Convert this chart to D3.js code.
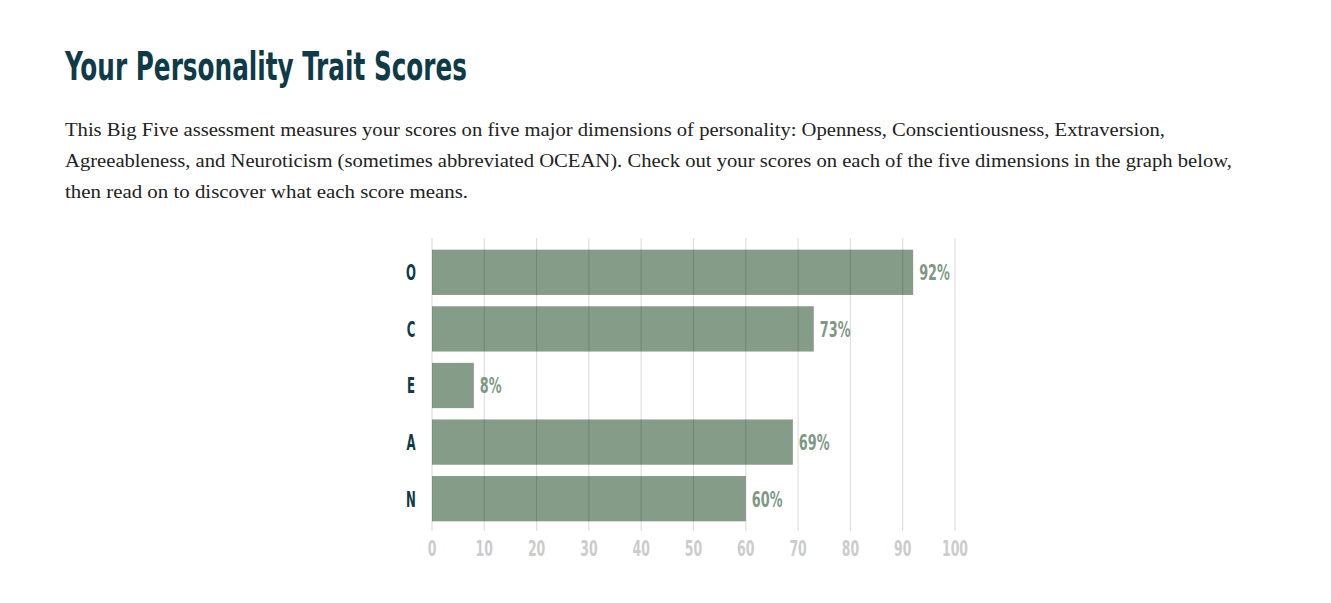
<html>
<head>
<script src="https://d3js.org/d3.v7.min.js"></script>
<style>
  body { margin: 0; background: #fff; }
  .title { font-family: "DejaVu Sans Condensed", "DejaVu Sans", sans-serif; font-weight: bold; fill: #0e3b47; }
  .intro { font-family: "Liberation Serif", serif; fill: #222; }
  .cond { font-family: "DejaVu Sans Condensed", "DejaVu Sans", sans-serif; font-weight: bold; }
</style>
</head>
<body>
<svg id="chart" width="1331" height="603"></svg>
<script>
    const traits = ["O", "C", "E", "A", "N"];
    const scores = [92, 73, 8, 69, 60];
    const ticks = [0, 10, 20, 30, 40, 50, 60, 70, 80, 90, 100];
    const introLines = [
        "This Big Five assessment measures your scores on five major dimensions of personality: Openness, Conscientiousness, Extraversion,",
        "Agreeableness, and Neuroticism (sometimes abbreviated OCEAN). Check out your scores on each of the five dimensions in the graph below,",
        "then read on to discover what each score means."
    ];
    const introWidths = [1100, 1167, 403];

    const svg = d3.select("#chart");

    // heading + intro
    svg.append("text")
        .attr("class", "title")
        .attr("x", 65).attr("y", 80)
        .attr("font-size", 39)
        .attr("textLength", 402)
        .attr("lengthAdjust", "spacingAndGlyphs")
        .text("Your Personality Trait Scores");

    svg.append("g").selectAll("text")
        .data(introLines)
        .join("text")
        .attr("class", "intro")
        .attr("x", 65)
        .attr("y", (d, i) => 136 + i * 31)
        .attr("font-size", 19)
        .attr("textLength", (d, i) => introWidths[i])
        .attr("lengthAdjust", "spacingAndGlyphs")
        .text(d => d);

    // chart
    const x = d3.scaleLinear().domain([0, 100]).range([432, 955]);
    const y = d3.scaleBand().domain(traits).range([244, 527]).paddingInner(0.2).paddingOuter(0.1);

    const data = traits.map((t, i) => ({ t: t, v: scores[i] }));

    svg.append("g").selectAll("rect")
        .data(data)
        .join("rect")
        .attr("x", x(0))
        .attr("y", d => y(d.t))
        .attr("width", d => x(d.v) - x(0))
        .attr("height", y.bandwidth())
        .attr("fill", "#859c89");

    // grid lines drawn over the bars, semi-transparent
    svg.append("g").selectAll("line")
        .data(ticks)
        .join("line")
        .attr("x1", d => x(d)).attr("x2", d => x(d))
        .attr("y1", 238).attr("y2", 531)
        .attr("stroke", "rgba(0,0,0,0.13)")
        .attr("stroke-width", 1.2);

    function squeeze(px, k) {
        return `translate(${px},0) scale(${k},1) translate(${-px},0)`;
    }

    svg.append("g").selectAll("text")
        .data(ticks)
        .join("text")
        .attr("class", "cond")
        .attr("x", d => x(d))
        .attr("y", 556)
        .attr("text-anchor", "middle")
        .attr("font-size", 21)
        .attr("font-weight", 600)
        .attr("fill", "#cccccc")
        .attr("transform", d => squeeze(x(d), 0.66))
        .text(d => d);

    svg.append("g").selectAll("text")
        .data(data)
        .join("text")
        .attr("class", "cond")
        .attr("x", 411)
        .attr("y", d => y(d.t) + y.bandwidth() / 2 + 8)
        .attr("text-anchor", "middle")
        .attr("font-size", 21)
        .attr("fill", "#0e3b47")
        .attr("transform", squeeze(411, 0.62))
        .text(d => d.t);

    svg.append("g").selectAll("text")
        .data(data)
        .join("text")
        .attr("class", "cond")
        .attr("x", d => x(d.v) + 6)
        .attr("y", d => y(d.t) + y.bandwidth() / 2 + 8)
        .attr("font-size", 21)
        .attr("fill", "#7f9885")
        .attr("transform", d => squeeze(x(d.v) + 6, 0.68))
        .text(d => d.v + "%");
</script>
</body>
</html>
